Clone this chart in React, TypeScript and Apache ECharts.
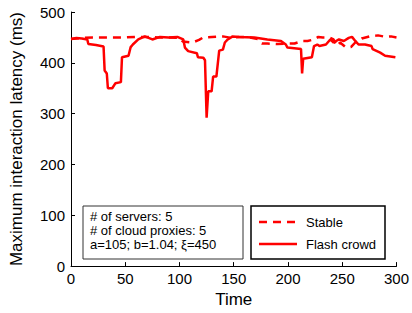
import React, { useEffect, useRef } from "react";
import * as echarts from "echarts";

const flashX = [0, 5, 10, 15, 16, 23, 30, 31, 32, 33, 34, 38, 41, 46, 47, 53, 55, 57, 62, 68, 75, 82, 90, 98, 103.5, 105, 108, 116, 117, 122, 123.5, 125, 126.5, 129.6, 131, 134, 136.6, 140, 141.8, 144.5, 149, 155, 169, 181, 193.5, 198, 199.5, 212, 213, 214, 222, 224, 227, 229, 235, 239, 242, 247, 251.5, 256, 259, 262, 265, 271, 277, 278, 285, 289.5, 299];
const flashY = [447, 449, 448, 446, 437, 435, 432, 385, 382, 379, 350, 350, 360, 362, 411, 414, 431, 436, 446, 452, 446, 451, 450, 451, 446, 430, 423, 419, 411, 410, 405, 292, 344, 344, 373, 373, 424, 426, 440, 446, 452, 451, 450, 446, 443, 436, 430, 427, 379, 408, 411, 433, 436, 433, 436, 446, 440, 446, 443, 449, 451, 443, 436, 436, 433, 427, 420, 414, 411];

const stableX = [0, 10, 20, 30, 40, 50, 60, 70, 80, 90, 100, 103, 112, 118, 122, 130, 140, 148, 155, 165, 172, 176, 181, 190, 200, 206, 213, 218, 224, 228, 232, 238, 242, 245, 248, 253, 258, 262, 268, 275, 283, 290, 295, 300];
const stableY = [447, 449, 450, 450, 450, 450, 451, 451, 450, 450, 449, 442, 440, 445, 450, 451, 452, 449, 451, 450, 447, 438, 438, 437, 438, 438, 443, 443, 446, 451, 450, 450, 446, 433, 440, 431, 431, 440, 448, 452, 454, 451, 452, 450];

const xTicks = [0, 50, 100, 150, 200, 250, 300];
const yTicks = [0, 100, 200, 300, 400, 500];
const seriesNames = ["Stable", "Flash crowd"];
const infoLines = ["# of servers: 5", "# of cloud proxies: 5", "a=105; b=1.04; \u03BE=450"];

const FONT = "'Liberation Sans', Arial, Helvetica, sans-serif";
const RED = "#ff0000";

export default function App() {
  const ref = useRef<HTMLDivElement>(null);
  useEffect(() => {
    if (!ref.current) return;
    const chart = echarts.init(ref.current, null, { renderer: "svg" });
    const zip = (xs: number[], ys: number[]) => xs.map((x, i) => [x, ys[i]]);
    chart.setOption({
      animation: false,
      backgroundColor: "#ffffff",
      textStyle: { fontFamily: FONT },
      grid: { left: 70, top: 12, width: 328, height: 260, containLabel: false },
      xAxis: {
        type: "value",
        min: xTicks[0],
        max: xTicks[xTicks.length - 1],
        interval: 50,
        name: "Time",
        nameLocation: "middle",
        nameGap: 24,
        nameTextStyle: { fontSize: 17, color: "#000", fontFamily: FONT },
        axisLine: { show: true, lineStyle: { color: "#000", width: 1 } },
        axisTick: { show: true, inside: true, length: 4, lineStyle: { color: "#000" } },
        axisLabel: { fontSize: 15, color: "#000", margin: 5, fontFamily: FONT },
        splitLine: { show: false },
      },
      yAxis: {
        type: "value",
        min: yTicks[0],
        max: yTicks[yTicks.length - 1],
        interval: 100,
        name: "Maximum interaction latency (ms)",
        nameLocation: "middle",
        nameGap: 46,
        nameTextStyle: { fontSize: 17, color: "#000", fontFamily: FONT },
        axisLine: { show: true, lineStyle: { color: "#000", width: 1 } },
        axisTick: { show: true, inside: true, length: 4, lineStyle: { color: "#000" } },
        axisLabel: { fontSize: 15, color: "#000", margin: 6, fontFamily: FONT },
        splitLine: { show: false },
      },
      series: [
        {
          name: seriesNames[0],
          type: "line",
          data: zip(stableX, stableY),
          showSymbol: false,
          lineStyle: { color: RED, width: 2.5, type: [8, 6] },
          z: 2,
        },
        {
          name: seriesNames[1],
          type: "line",
          data: zip(flashX, flashY),
          showSymbol: false,
          lineStyle: { color: RED, width: 2.5 },
          z: 3,
        },
      ],
      graphic: [
        {
          type: "rect",
          shape: { x: 83, y: 206, width: 160, height: 53 },
          style: { fill: "#fff", stroke: "#333", lineWidth: 1 },
        },
        ...infoLines.map((t, i) => ({
          type: "text",
          x: 90,
          y: 216 + i * 14,
          style: { text: t, fontSize: 13, fontFamily: FONT, fill: "#000", verticalAlign: "middle" },
        })),
        {
          type: "rect",
          shape: { x: 251, y: 206, width: 134, height: 53 },
          style: { fill: "#fff", stroke: "#000", lineWidth: 1.5 },
        },
        {
          type: "line",
          shape: { x1: 259, y1: 222, x2: 297, y2: 222 },
          style: { stroke: RED, lineWidth: 2.5, lineDash: [8, 6] },
        },
        {
          type: "line",
          shape: { x1: 259, y1: 244, x2: 297, y2: 244 },
          style: { stroke: RED, lineWidth: 2.5 },
        },
        {
          type: "text",
          x: 306,
          y: 222,
          style: { text: seriesNames[0], fontSize: 13, fontFamily: FONT, fill: "#000", verticalAlign: "middle" },
        },
        {
          type: "text",
          x: 306,
          y: 244,
          style: { text: seriesNames[1], fontSize: 13, fontFamily: FONT, fill: "#000", verticalAlign: "middle" },
        },
      ],
    });
    return () => chart.dispose();
  }, []);
  return <div ref={ref} style={{ width: 412, height: 313, position: "absolute", left: 0, top: 0 }} />;
}
